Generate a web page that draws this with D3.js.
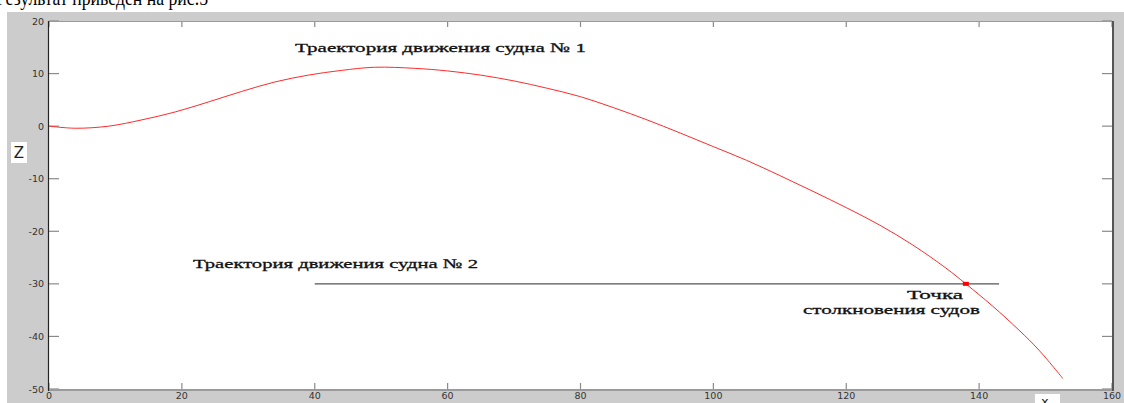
<!DOCTYPE html>
<html>
<head>
<meta charset="utf-8">
<script src="https://cdn.jsdelivr.net/npm/d3@7/dist/d3.min.js"></script>
<style>
  html, body { margin: 0; padding: 0; background: #fff; }
  svg { display: block; }
</style>
</head>
<body>
<svg id="fig" width="1124" height="403"></svg>
<script>
// Trajectory of ship No 1 (x, z)
const ship1X = [0, 4, 9, 14, 19, 24, 29, 34, 39, 44, 49, 55, 60, 65, 70, 75, 80, 85, 90, 95, 100, 105, 110, 115, 120, 125, 130, 135, 138, 142, 146, 149, 152.6];
const ship1Z = [0, -0.4, 0, 1.2, 2.7, 4.6, 6.6, 8.4, 9.7, 10.6, 11.2, 11.0, 10.5, 9.7, 8.6, 7.2, 5.6, 3.5, 1.2, -1.3, -3.9, -6.5, -9.4, -12.4, -15.5, -18.8, -22.6, -27.0, -30, -34.2, -38.8, -42.6, -48];
// Trajectory of ship No 2 (straight course)
const ship2X = [40, 143];
const ship2Z = [-30, -30];
// Collision point
const collisionX = [138];
const collisionZ = [-30];
// Axis ticks
const xTicks = [0, 20, 40, 60, 80, 100, 120, 140, 160];
const zTicks = [20, 10, 0, -10, -20, -30, -40, -50];

const svg = d3.select("#fig");
const L = 49, R = 1112, T = 21, B = 389;

const x = d3.scaleLinear().domain([0, 160]).range([L, R]);
const z = d3.scaleLinear().domain([-50, 20]).range([B, T]);

const serif = "'Liberation Serif', 'Times New Roman', serif";

// Caption line of the page above the figure
svg.append("text")
  .attr("x", -4).attr("y", 5)
  .attr("font-family", serif)
  .attr("font-size", 22)
  .attr("textLength", 212).attr("lengthAdjust", "spacingAndGlyphs")
  .attr("fill", "#000")
  .text("Результат приведен на рис.5");

// Figure background
svg.append("rect").attr("x", 7).attr("y", 12).attr("width", 1117).attr("height", 391).attr("fill", "#cccccc");
// Axes area
svg.append("rect").attr("x", L).attr("y", T).attr("width", R - L).attr("height", B - T).attr("fill", "#fff");

const tickFont = "'DejaVu Sans', sans-serif";

// Tick marks
const tickG = svg.append("g").attr("stroke", "#8a8a8a").attr("stroke-width", 1.2);
xTicks.forEach(v => {
  tickG.append("line").attr("x1", x(v)).attr("x2", x(v)).attr("y1", B).attr("y2", B - 6);
  tickG.append("line").attr("x1", x(v)).attr("x2", x(v)).attr("y1", T).attr("y2", T + 6);
});
zTicks.forEach(v => {
  tickG.append("line").attr("x1", L).attr("x2", L + 10).attr("y1", z(v)).attr("y2", z(v));
  tickG.append("line").attr("x1", R).attr("x2", R - 10).attr("y1", z(v)).attr("y2", z(v));
});

// Tick labels
svg.append("g").selectAll("text").data(xTicks).join("text")
  .attr("x", d => x(d)).attr("y", B + 9.5)
  .attr("text-anchor", "middle")
  .attr("font-family", tickFont).attr("font-size", 9.5)
  .attr("fill", "#333")
  .text(d => d);
svg.append("g").selectAll("text").data(zTicks).join("text")
  .attr("x", L - 5).attr("y", d => z(d) + 3.5)
  .attr("text-anchor", "end")
  .attr("font-family", tickFont).attr("font-size", 9.5)
  .attr("fill", "#333")
  .text(d => d);

// Box edges
svg.append("line").attr("x1", L).attr("x2", R).attr("y1", T + 0.5).attr("y2", T + 0.5).attr("stroke", "#9a9a9a").attr("stroke-width", 1);
svg.append("line").attr("x1", L).attr("x2", R + 1).attr("y1", B + 1).attr("y2", B + 1).attr("stroke", "#9a9a9a").attr("stroke-width", 2);
svg.append("line").attr("x1", L - 0.5).attr("x2", L - 0.5).attr("y1", T).attr("y2", B + 2).attr("stroke", "#222").attr("stroke-width", 1.2);
svg.append("line").attr("x1", R + 1).attr("x2", R + 1).attr("y1", T).attr("y2", B + 2).attr("stroke", "#555").attr("stroke-width", 2);

// Ship No 2 course
const line = d3.line().x(d => x(d[0])).y(d => z(d[1]));
svg.append("path")
  .datum(d3.zip(ship2X, ship2Z))
  .attr("d", line)
  .attr("fill", "none").attr("stroke", "#555").attr("stroke-width", 1.2);

// Ship No 1 course
svg.append("path")
  .datum(d3.zip(ship1X, ship1Z))
  .attr("d", line.curve(d3.curveCatmullRom.alpha(0.5)))
  .attr("fill", "none").attr("stroke", "#ff2a2a").attr("stroke-width", 1);

// Collision marker
svg.append("g").selectAll("rect").data(d3.zip(collisionX, collisionZ)).join("rect")
  .attr("x", d => x(d[0]) - 3).attr("y", d => z(d[1]) - 2)
  .attr("width", 6).attr("height", 4)
  .attr("fill", "#f00");

// Annotations
const notes = [
  { t: "Траектория движения судна № 1", x: 295, y: 52, w: 291 },
  { t: "Траектория движения судна № 2", x: 193, y: 268, w: 285 },
  { t: "Точка", x: 907, y: 299, w: 56 },
  { t: "столкновения судов", x: 803, y: 314, w: 177 }
];
svg.append("g").selectAll("text").data(notes).join("text")
  .attr("x", d => d.x).attr("y", d => d.y)
  .attr("textLength", d => d.w).attr("lengthAdjust", "spacingAndGlyphs")
  .attr("font-family", serif).attr("font-size", 13.5)
  .attr("fill", "#111")
  .style("stroke", "#111").style("stroke-width", 0.3)
  .text(d => d.t);

// Axis name boxes
svg.append("rect").attr("x", 11).attr("y", 142).attr("width", 16).attr("height", 21).attr("fill", "#fff");
svg.append("text").attr("x", 19).attr("y", 158).attr("text-anchor", "middle")
  .attr("font-family", tickFont).attr("font-size", 15).attr("fill", "#222").text("Z");
svg.append("rect").attr("x", 1035).attr("y", 394).attr("width", 25).attr("height", 9).attr("fill", "#fff");
svg.append("text").attr("x", 1041).attr("y", 406)
  .attr("font-family", tickFont).attr("font-size", 13).attr("fill", "#222").text("x");
</script>
</body>
</html>
